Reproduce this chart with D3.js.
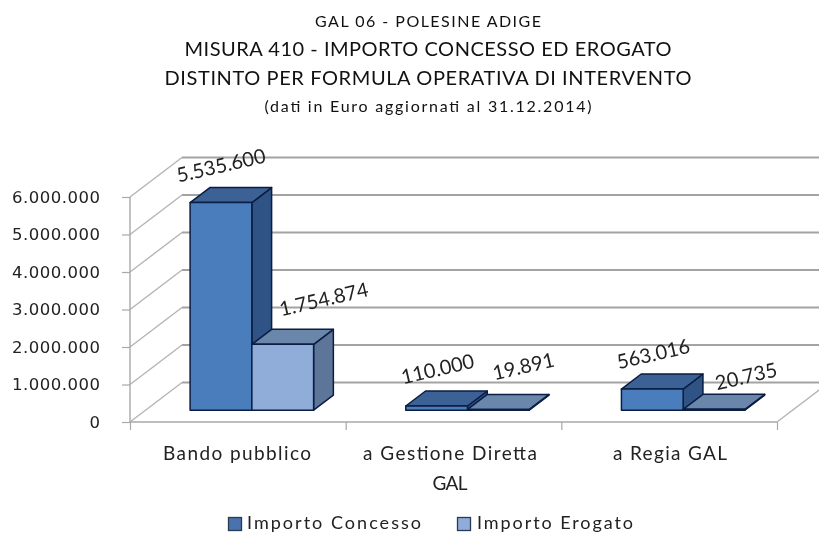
<!DOCTYPE html>
<html><head><meta charset="utf-8">
<script src="https://cdn.jsdelivr.net/npm/d3@7"></script>
<style>html,body{margin:0;padding:0;background:#fff;overflow:hidden}svg{display:block;filter:blur(.35px)}</style>
</head><body><svg id="c" width="819" height="533"></svg>
<script>
const categories = ["Bando pubblico", "a Gestione Diretta", "a Regia GAL"];
const seriesNames = ["Importo Concesso", "Importo Erogato"];
const concesso = [5535600, 110000, 563016];
const erogato = [1754874, 19891, 20735];
const yTicks = [0, 1000000, 2000000, 3000000, 4000000, 5000000, 6000000];

const labelNudges = [[[0,-37],[41,-45]],[[1,-37],[25,-43]],[[1,-35],[32,-33]]];
const fills = [{front:"#4a7dbb",top:"#3c6194",side:"#2f5384"},{front:"#8fadd8",top:"#6b86ab",side:"#5d7598"}];
const ink = "#0b1d42", txt = "#222";
const svg = d3.select("#c");
const loc = d3.formatLocale({decimal:",",thousands:".",grouping:[3],currency:["€",""]});
const fmt = loc.format(",d");

const x0 = d3.scaleBand().domain(d3.range(categories.length)).range([130,777]);
const x1 = d3.scaleBand().domain(d3.range(seriesNames.length)).range([44.5,168]);
const y = d3.scaleLinear().domain([0,6000000]).range([422,197]);
const depth = d3.scaleLinear().domain([0,1]).range([0,52]);
const lift = d3.scaleLinear().domain([0,1]).range([0,-39.5]);
const P = (px,v,z) => [px+depth(z), y(v)+lift(z)];
const path = pts => d3.line()(pts)+"Z";

// grid
const grid = svg.append("g").attr("fill","none");
yTicks.forEach(t=>{
  grid.append("path").attr("d",d3.line()([P(130,t,0),P(130,t,1)])).attr("stroke","#b4b4b4").attr("stroke-width",1.4);
  grid.append("path").attr("d",d3.line()([P(130,t,1),P(777,t,1),P(900,t,1)])).attr("stroke","#a3a3a3").attr("stroke-width",2);
});
grid.append("path").attr("d",d3.line()([P(777,0,0),P(777,0,1)])).attr("stroke","#b4b4b4").attr("stroke-width",1.4);

// axes
const yAxis = d3.axisLeft(y).tickValues(yTicks).tickFormat(fmt).tickSize(8).tickPadding(22);
const gy = svg.append("g").attr("transform","translate(130,0)").call(yAxis);
gy.select(".domain").attr("stroke","#a8a8a8").attr("stroke-width",1.4).attr("d",`M0,${y(6000000)}V${y(0)}`);
gy.selectAll("line").attr("stroke","#a8a8a8").attr("stroke-width",1.2);
gy.selectAll("text").attr("font-family","'DejaVu Sans'").attr("font-size",16.5).attr("fill",txt).attr("dy",".33em")
  .attr("textLength",d=>d===0?11:88);

const xIdx = d3.scaleLinear().domain([0,3]).range([130,777]);
const gx = svg.append("g").attr("transform",`translate(0,${y(0)})`).call(d3.axisBottom(xIdx).tickValues([0,1,2,3]).tickFormat("").tickSize(8));
gx.select(".domain").attr("stroke","#a8a8a8").attr("stroke-width",1.6).attr("d","M130,0H777");
gx.selectAll("line").attr("stroke","#a8a8a8").attr("stroke-width",1.2);

// bars
const rows = categories.map((c,i)=>[concesso[i],erogato[i]]);
const z0 = 0.3, z1 = 0.68;
rows.forEach((vals,i)=>{
  vals.forEach((v,s)=>{
    const a = x0(i)+x1(s), b = a+x1.bandwidth(), f = fills[s];
    const g = svg.append("g").attr("stroke",ink).attr("stroke-width",1.5).attr("stroke-linejoin","round");
    g.append("path").attr("fill",f.side).attr("d",path([P(b,0,z0),P(b,0,z1),P(b,v,z1),P(b,v,z0)]));
    g.append("path").attr("fill",f.top).attr("d",path([P(a,v,z0),P(b,v,z0),P(b,v,z1),P(a,v,z1)]));
    g.append("path").attr("fill",f.front).attr("d",path([P(a,0,z0),P(b,0,z0),P(b,v,z0),P(a,v,z0)]));
  });
});
// labels
rows.forEach((vals,i)=>vals.forEach((v,s)=>{
  const p = P(x0(i)+x1(s)+x1.bandwidth()/2,v,z0), n = labelNudges[i][s];
  svg.append("text").attr("transform",`translate(${p[0]+n[0]},${p[1]+n[1]}) rotate(-13)`)
    .attr("text-anchor","middle").attr("dy",".35em").attr("font-family","Lato").attr("font-size",20).attr("fill",txt).text(fmt(v));
}));

// titles
const titles = [["GAL 06 -  POLESINE ADIGE",21,16,226],["MISURA 410 - IMPORTO  CONCESSO ED EROGATO",49,20,487],["DISTINTO PER FORMULA OPERATIVA  DI INTERVENTO",78,20,527],["(dati in Euro aggiornati  al 31.12.2014)",106,16,327]];
titles.forEach(t=>svg.append("text").attr("x",428).attr("y",t[1]).attr("dy",".35em").attr("text-anchor","middle")
  .attr("font-family","Lato").attr("font-size",t[2]).attr("textLength",t[3]).attr("fill","#111").text(t[0]));

// category labels
const tx = (xp,yp,s,w)=>svg.append("text").attr("x",xp).attr("y",yp).attr("textLength",w).text(s)
  .attr("font-family","Lato").attr("font-size",19).attr("fill",txt).attr("text-anchor","middle").attr("dy",".35em");
tx(237,453,categories[0],148);
tx(450,453,categories[1],174);
tx(450,483,"GAL",35);
tx(670,453,categories[2],114);

// legend
const legendX = [[228,247,174],[457,477,156]];
const swatch = ["#4a72ad","#8fadd8"];
seriesNames.forEach((n,s)=>{
  const l = legendX[s];
  svg.append("rect").attr("x",l[0]+.5).attr("y",517.5).attr("width",13).attr("height",13).attr("fill",swatch[s]).attr("stroke","#2a3a55").attr("stroke-width",1.3);
  svg.append("text").attr("x",l[1]).attr("y",522.5).attr("dy",".35em").attr("font-family","Lato").attr("font-size",18).attr("textLength",l[2]).attr("fill",txt).text(n);
});
</script></body></html>
